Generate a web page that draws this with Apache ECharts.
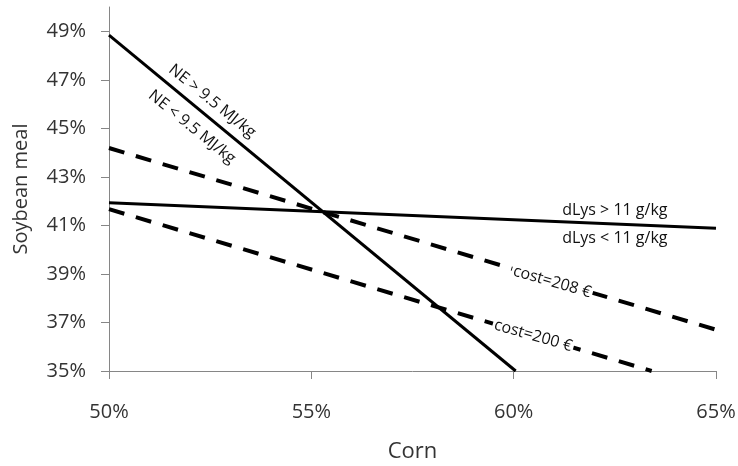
<!DOCTYPE html>
<html>
<head>
<meta charset="utf-8">
<script src="https://cdn.jsdelivr.net/npm/echarts@6/dist/echarts.min.js"></script>
<style>
  html, body { margin: 0; padding: 0; background: #fff; }
  #main { width: 738px; height: 466px; }
</style>
</head>
<body>
<div id="main"></div>
<script>
// values (corn % on x, soybean meal % on y)
const xTicks = [50, 55, 60, 65];
const yTicks = [35, 37, 39, 41, 43, 45, 47, 49];

const neLine = [[50, 48.84], [60.05, 35]];
const dLysLine = [[50, 41.93], [65, 40.88]];
const cost208Line = [[50, 44.19], [65, 36.70]];
const cost200Line = [[50, 41.67], [63.41, 35]];

const labelTexts = ['NE > 9.5 MJ/kg', 'NE < 9.5 MJ/kg', 'dLys > 11 g/kg', 'dLys < 11 g/kg', 'cost=208 €', 'cost=200 €'];
const labelAnchors = [[52.55, 46.12], [52.05, 45.05], [62.5, 41.63], [62.5, 40.48], [60.95, 38.67], [60.48, 36.45]];

const FONT = '"Open Sans", "Noto Sans", sans-serif';
const chart = echarts.init(document.getElementById('main'));

const solid = { color: '#000', width: 3, type: 'solid' };
const dashed = { color: '#000', width: 4, type: [16, 12] };

// rotation per label; the cost labels sit on their line with a white box behind
const labelRotate = [-39, -39, 0, 0, -16, -16];
const labelOnLine = [false, false, false, false, true, true];

chart.setOption({
  animation: false,
  grid: { left: 109, right: 22, top: 7, bottom: 95, outerBoundsMode: 'none', containLabel: false },
  xAxis: {
    type: 'value',
    min: 50, max: 65, interval: 5,
    name: 'Corn',
    nameLocation: 'middle',
    nameGap: 70,
    nameTextStyle: { fontFamily: FONT, fontSize: 22, color: '#333' },
    axisLine: { show: true, lineStyle: { color: '#868686', width: 1 } },
    axisTick: { show: true, length: 8, lineStyle: { color: '#868686' } },
    axisLabel: { margin: 31, fontFamily: FONT, fontSize: 20, color: '#333', formatter: v => v + '%' },
    splitLine: { show: false }
  },
  yAxis: {
    type: 'value',
    min: 35, max: 50,
    name: 'Soybean meal',
    nameLocation: 'middle',
    nameGap: 78,
    nameTextStyle: { fontFamily: FONT, fontSize: 20, color: '#333' },
    axisLine: { show: true, lineStyle: { color: '#868686', width: 1 } },
    axisTick: { show: true, length: 8, customValues: yTicks, lineStyle: { color: '#868686' } },
    axisLabel: { margin: 23, fontFamily: FONT, fontSize: 20, color: '#333', customValues: yTicks, formatter: v => v + '%' },
    splitLine: { show: false }
  },
  series: [
    { type: 'line', data: cost208Line, symbol: 'none', lineStyle: dashed, z: 2 },
    { type: 'line', data: cost200Line, symbol: 'none', lineStyle: dashed, z: 2 },
    { type: 'line', data: dLysLine, symbol: 'none', lineStyle: solid, z: 3 },
    { type: 'line', data: neLine, symbol: 'none', lineStyle: solid, z: 3 },
    {
      type: 'scatter',
      z: 5,
      silent: true,
      data: labelAnchors.map((p, i) => ({
        value: p,
        symbol: 'rect',
        symbolSize: labelOnLine[i] ? [84, 22] : 0,
        symbolRotate: labelRotate[i],
        itemStyle: { color: '#fff', opacity: 1 },
        label: {
          show: true,
          position: 'inside',
          formatter: labelTexts[i],
          rotate: labelRotate[i],
          fontFamily: FONT,
          fontSize: 16,
          color: '#111',
          opacity: 1
        }
      }))
    }
  ]
});
</script>
</body>
</html>
